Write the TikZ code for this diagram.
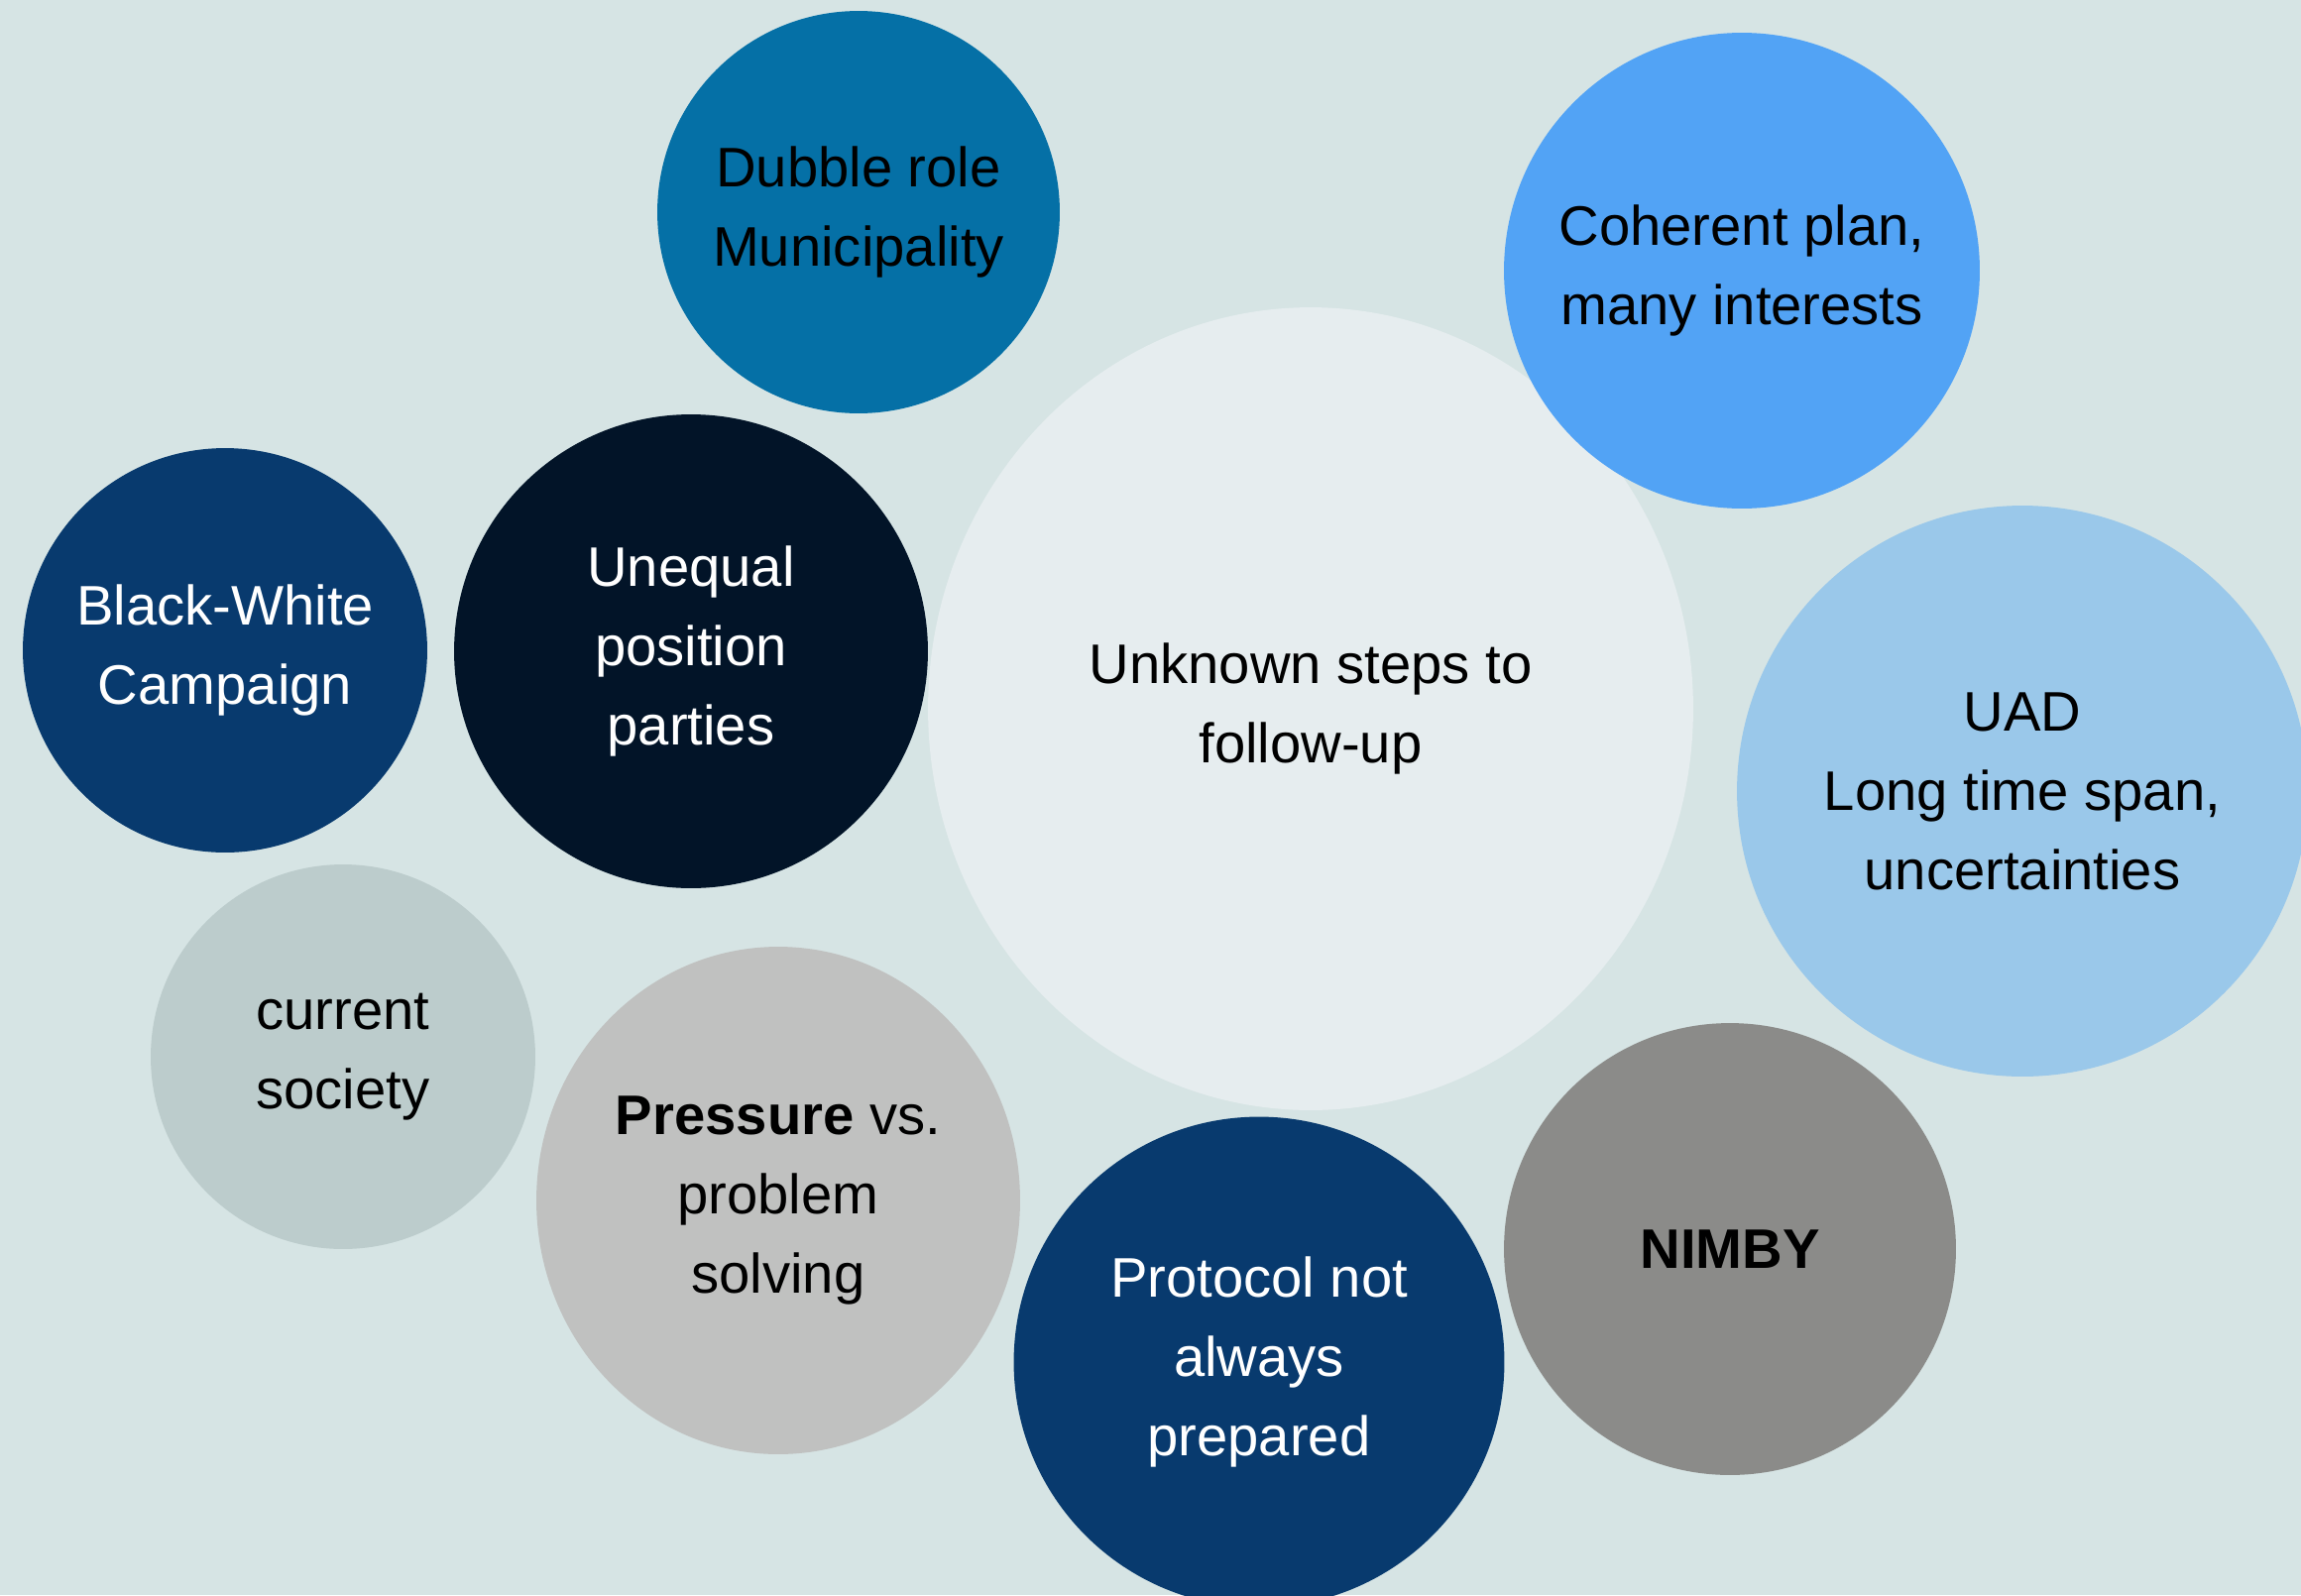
\documentclass[tikz,border=0pt]{standalone}
\usepackage{fontspec}
\setmainfont{Liberation Sans}
\usetikzlibrary{shapes.geometric}
\definecolor{bgcol}{HTML}{D6E4E4}
\definecolor{dubblecol}{HTML}{0570A6}
\definecolor{coherentcol}{HTML}{52A3F5}
\definecolor{followcol}{HTML}{E6EDEF}
\definecolor{unequalcol}{HTML}{021428}
\definecolor{navycol}{HTML}{083A6E}
\definecolor{uadcol}{HTML}{9AC8EA}
\definecolor{societycol}{HTML}{BCCCCC}
\definecolor{pressurecol}{HTML}{C0C1C0}
\definecolor{nimbycol}{HTML}{8B8B89}
\newcommand{\bubfont}{\fontsize{32}{45.5}\selectfont}

\begin{document}
\begin{tikzpicture}[x=0.02cm,y=-0.02cm,
  bubble/.style={circle,inner sep=0pt,align=center,font=\bubfont},
  oval/.style={ellipse,inner sep=0pt,align=center,font=\bubfont}]
  %background, bubbles at the edge are cut off
  \useasboundingbox (0,0) rectangle (2321,1609);
  \clip (0,0) rectangle (2321,1609);
  \fill[bgcol] (0,0) rectangle (2321,1609);

  %central bubble first, the others lie on top
  \node[oval,fill=followcol,minimum width=15.44cm,minimum height=16.2cm] (follow) at (1322,715) {Unknown steps to\\follow-up};

  \node[bubble,fill=dubblecol,minimum size=8.12cm] (dubble) at (866,214) {Dubble role\\Municipality};
  \node[bubble,fill=coherentcol,minimum size=9.6cm] (coherent) at (1757,273) {Coherent plan,\\many interests};
  \node[bubble,fill=unequalcol,text=white,minimum size=9.56cm] (unequal) at (697,657) {Unequal\\position\\parties};
  \node[bubble,fill=navycol,text=white,minimum size=8.16cm] (campaign) at (227,656) {Black-White\\Campaign};
  \node[bubble,fill=uadcol,minimum size=11.52cm] (uad) at (2040,798) {UAD\\Long time span,\\uncertainties};
  \node[bubble,fill=societycol,minimum size=7.76cm] (society) at (346,1066) {current\\society};
  \node[oval,fill=pressurecol,minimum width=9.76cm,minimum height=10.24cm] (pressure) at (785,1211) {\textbf{Pressure} vs.\\problem\\solving};
  \node[bubble,fill=navycol,text=white,minimum size=9.9cm] (protocol) at (1270,1374) {Protocol not\\always\\prepared};
  \node[bubble,fill=nimbycol,minimum size=9.12cm] (nimby) at (1745,1260) {\textbf{NIMBY}};
\end{tikzpicture}
\end{document}
